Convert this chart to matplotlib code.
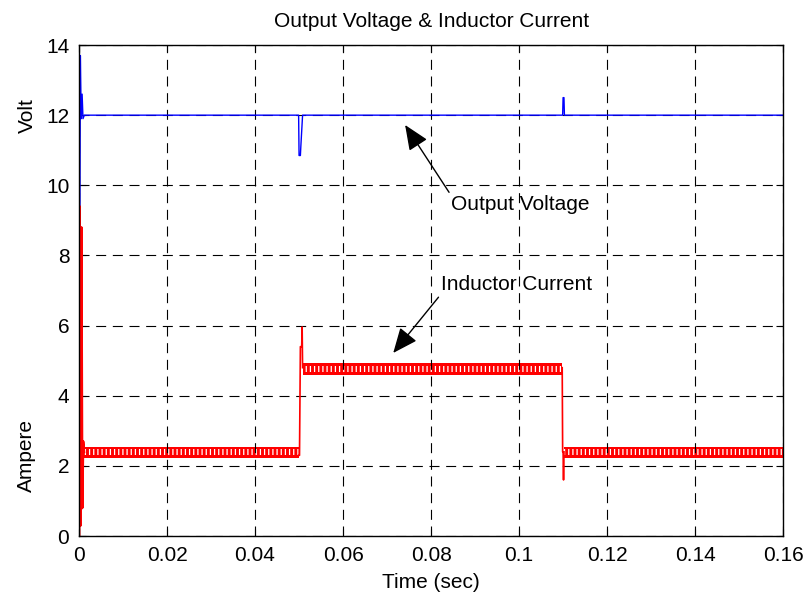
import numpy as np
import matplotlib
matplotlib.use("Agg")
from matplotlib import pyplot as plt

plt.rcParams['font.family'] = ['Liberation Sans', 'DejaVu Sans']
plt.rcParams['hatch.linewidth'] = 0.9

# Output voltage trace (time in sec, volt)
volt_t = [0, 0.0003, 0.0005, 0.0007, 0.0009, 0.0012, 0.0499, 0.0500, 0.0503,
          0.0504, 0.0508, 0.1099, 0.1100, 0.1102, 0.1103, 0.16]
volt_v = [0, 13.7, 11.9, 12.6, 11.9, 12.0, 12.0, 10.85, 10.85,
          11.1, 12.0, 12.0, 12.5, 12.5, 12.0, 12.0]

# Inductor current: start-up and load-step transitions
cur_start_t = [0, 0.0001, 0.0003, 0.0005, 0.0007, 0.0009, 0.0011]
cur_start_v = [0, 9.4, 0.3, 8.8, 0.8, 2.7, 2.4]
step_up_t = [0.0499, 0.0501, 0.0503, 0.0506, 0.0507, 0.0508]
step_up_v = [2.3, 2.3, 5.4, 5.4, 5.96, 4.8]
step_down_t = [0.1098, 0.1099, 0.1100, 0.1101, 0.1102]
step_down_v = [4.8, 2.4, 2.4, 1.6, 2.4]

# Switching ripple band of the inductor current
band_start = [0.0011, 0.0508, 0.1102]
band_end = [0.0499, 0.1098, 0.16]
band_low = [2.22, 4.60, 2.22]
band_high = [2.55, 4.93, 2.55]

fig = plt.figure(figsize=(8.09, 5.94), dpi=100)
ax = fig.add_axes([0.0977, 0.0976, 0.8703, 0.8266])

ax.plot(volt_t, volt_v, color='blue', lw=1.0)

for s, e, lo, hi in zip(band_start, band_end, band_low, band_high):
    ax.fill_between([s, e], [lo, lo], [hi, hi], color='red', lw=0)
    ax.fill_between([s, e], [lo + 0.08, lo + 0.08], [hi - 0.08, hi - 0.08],
                    facecolor='none', hatch='||||', edgecolor='white', lw=0)
ax.plot(cur_start_t, cur_start_v, color='red', lw=2.0)
ax.plot(step_up_t, step_up_v, color='red', lw=1.2)
ax.plot(step_down_t, step_down_v, color='red', lw=1.2)

ax.set_xlim(0, 0.16)
ax.set_ylim(0, 14)
ax.set_xticks([0, 0.02, 0.04, 0.06, 0.08, 0.1, 0.12, 0.14, 0.16])
ax.set_xticklabels(['0', '0.02', '0.04', '0.06', '0.08', '0.1', '0.12', '0.14', '0.16'])
ax.set_yticks(range(0, 15, 2))
ax.tick_params(direction='in', top=True, right=True, length=5, labelsize=15)
ax.tick_params(axis='x', pad=7)
ax.tick_params(axis='y', pad=7)
ax.grid(True, color='black', linestyle=(0, (9, 6)), lw=0.8)
for sp in ax.spines.values():
    sp.set_linewidth(1.0)

ax.set_title('Output Voltage & Inductor Current', fontsize=15, pad=13)
ax.set_xlabel('Time (sec)', fontsize=15, labelpad=6)
ax.text(-0.074, 0.857, 'Volt', transform=ax.transAxes, rotation=90,
        ha='center', va='center', fontsize=15)
ax.text(-0.074, 0.165, 'Ampere', transform=ax.transAxes, rotation=90,
        ha='center', va='center', fontsize=15)

arrow = dict(arrowstyle='-|>,head_length=0.7,head_width=0.3', color='black',
             lw=1.0, mutation_scale=22, shrinkA=0, shrinkB=0)
ax.annotate('Output Voltage', xy=(0.0741, 11.72), xytext=(0.0845, 9.45),
            fontsize=15, va='center', ha='left',
            arrowprops=dict(arrow, relpos=(0.0, 1.0)))
ax.annotate('Inductor Current', xy=(0.0714, 5.22), xytext=(0.0822, 7.16),
            fontsize=15, va='center', ha='left',
            arrowprops=dict(arrow, relpos=(0.0, 0.0)))

fig.savefig('out.png', dpi=100)
